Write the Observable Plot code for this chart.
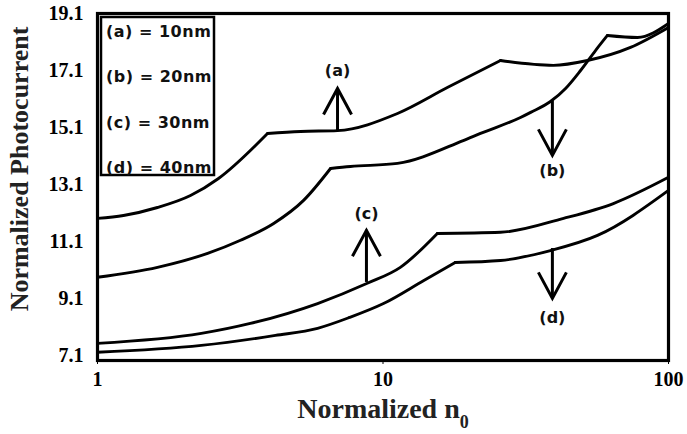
<!DOCTYPE html>
<html><head><meta charset="utf-8">
<script src="https://cdn.jsdelivr.net/npm/d3@7"></script>
<script src="https://cdn.jsdelivr.net/npm/@observablehq/plot@0.6"></script>
<style>
html,body{margin:0;padding:0;background:#fff;}
#chart{width:687px;height:434px;}
</style></head><body><div id="chart"></div>
<script>
// Each curve is piecewise smooth; segments break at the visible kinks.
// Curve (a) 10nm
const n_a = [[1, 1.233, 1.622, 2.117, 2.653, 3.94], [3.94, 5.14, 6.93, 11.24, 16.8, 25.8], [25.8, 39.5, 52.0, 73.6, 100]];
const v_a = [[11.91, 12.01, 12.29, 12.71, 13.31, 14.89], [14.89, 14.96, 14.99, 15.59, 16.50, 17.45], [17.45, 17.28, 17.45, 17.91, 18.61]];
// Curve (b) 20nm
const n_b = [[1, 1.622, 2.43, 3.17, 4.14, 5.27, 6.55], [6.55, 7.69, 11.24, 19.1, 21.95, 30.3, 32.9, 38.6, 43.6, 49.2, 55.5, 61.1], [61.1, 77.9, 100]];
const v_b = [[9.84, 10.19, 10.68, 11.14, 11.73, 12.54, 13.66], [13.66, 13.73, 13.84, 14.64, 14.89, 15.45, 15.63, 16.01, 16.47, 17.10, 17.80, 18.33], [18.33, 18.26, 18.75]];
// Curve (c) 30nm
const n_c = [[1, 2.31, 3.43, 5.90, 8.81, 11.5, 15.5], [15.5, 25.8, 42.9, 64.1, 100]];
const v_c = [[7.52, 7.87, 8.22, 8.92, 9.63, 10.19, 11.38], [11.38, 11.42, 11.91, 12.43, 13.35]];
// Curve (d) 40nm
const n_d = [[1, 2.31, 4.20, 5.90, 7.63, 10.04, 13.9, 17.9], [17.9, 25.8, 38.6, 56.4, 100]];
const v_d = [[7.21, 7.45, 7.80, 8.05, 8.43, 8.92, 9.73, 10.36], [10.36, 10.43, 10.78, 11.31, 12.89]];

const seriesIds = ["a", "b", "c", "d"];
const legendLabels = ["(a) = 10nm", "(b) = 20nm", "(c) = 30nm", "(d) = 40nm"];
const curveLabels = ["(a)", "(b)", "(c)", "(d)"];
// annotation arrows
const arrowN = [6.93, 39.2, 8.75, 39.2];
const arrowFrom = [14.99, 16.03, 9.66, 10.85];
const arrowTo = [16.47, 14.12, 11.49, 9.10];
const labelV = [17.1, 13.59, 12.08, 8.43];

const xTicks = [1, 10, 100];
const yTicks = [7.1, 9.1, 11.1, 13.1, 15.1, 17.1, 19.1];

const lists = [[n_a, v_a], [n_b, v_b], [n_c, v_c], [n_d, v_d]];
const data = lists.flatMap(([segsN, segsV], k) =>
  segsN.flatMap((ns, s) => ns.map((n, i) => ({id: seriesIds[k] + s, n, v: segsV[s][i]}))));
const arrows = arrowN.map((n, i) => ({n, from: arrowFrom[i], to: arrowTo[i], lab: labelV[i], text: curveLabels[i], up: arrowTo[i] > arrowFrom[i]}));

const chevronUp = {draw(ctx) { ctx.moveTo(-14, 26); ctx.lineTo(0, 0); ctx.lineTo(14, 26); }};
const chevronDown = {draw(ctx) { ctx.moveTo(-14, -26); ctx.lineTo(0, 0); ctx.lineTo(14, -26); }};

const W = 687, H = 434;
const plot = Plot.plot({
  width: W, height: H,
  marginLeft: 97, marginRight: 19, marginTop: 13, marginBottom: 74,
  style: {fontFamily: "'Liberation Serif', serif", fontSize: "20px", fontWeight: "bold", color: "black", background: "white"},
  x: {type: "log", domain: [1, 100], ticks: xTicks, tickFormat: d => String(d), tickSize: 4, tickPadding: 7, label: null},
  y: {domain: [6.92, 19.1], ticks: yTicks, tickFormat: d => d.toFixed(1), tickSize: 0, tickPadding: 14, label: null},
  marks: [
    Plot.line(data, {x: "n", y: "v", z: "id", stroke: "black", strokeWidth: 2.9, curve: "monotone-x", strokeLinejoin: "round"}),
    Plot.ruleX(arrows, {x: "n", y1: "from", y2: "to", stroke: "black", strokeWidth: 3}),
    Plot.dot(arrows.filter(d => d.up), {x: "n", y: "to", symbol: chevronUp, fill: "none", stroke: "black", strokeWidth: 3, strokeLinejoin: "miter"}),
    Plot.dot(arrows.filter(d => !d.up), {x: "n", y: "to", symbol: chevronDown, fill: "none", stroke: "black", strokeWidth: 3, strokeLinejoin: "miter"}),
    Plot.text(arrows, {x: "n", y: "lab", text: "text", fontFamily: "DejaVu Sans", fontWeight: "bold", fontSize: 16, fill: "#111"}),
    Plot.frame({stroke: "black", strokeWidth: 3.2})
  ]
});

const svg = d3.select(plot);
// legend box
const lg = svg.append("g").attr("text-anchor", "start");
lg.append("rect").attr("x", 101).attr("y", 17).attr("width", 113).attr("height", 158)
  .attr("fill", "white").attr("stroke", "black").attr("stroke-width", 2.5);
lg.selectAll("text.lg").data(legendLabels).join("text")
  .attr("x", 106).attr("y", (d, i) => 37 + i * 45.3)
  .attr("text-anchor", "start")
  .attr("font-family", "DejaVu Sans").attr("font-weight", "bold").attr("font-size", 16)
  .attr("letter-spacing", "0.5px").attr("fill", "#111")
  .text(d => d);
// axis titles
const xt = svg.append("text").attr("x", 383).attr("y", 418).attr("text-anchor", "middle")
  .attr("font-family", "'Liberation Serif', serif").attr("font-weight", "bold").attr("font-size", 28).attr("fill", "#222");
xt.append("tspan").text("Normalized n");
xt.append("tspan").attr("baseline-shift", "sub").attr("font-size", 18).text("0");
svg.append("text").attr("transform", "translate(28,169) rotate(-90)").attr("text-anchor", "middle")
  .attr("font-family", "'Liberation Serif', serif").attr("font-weight", "bold").attr("font-size", 26).attr("fill", "#222")
  .text("Normalized Photocurrent");

document.getElementById("chart").appendChild(plot);
</script></body></html>
